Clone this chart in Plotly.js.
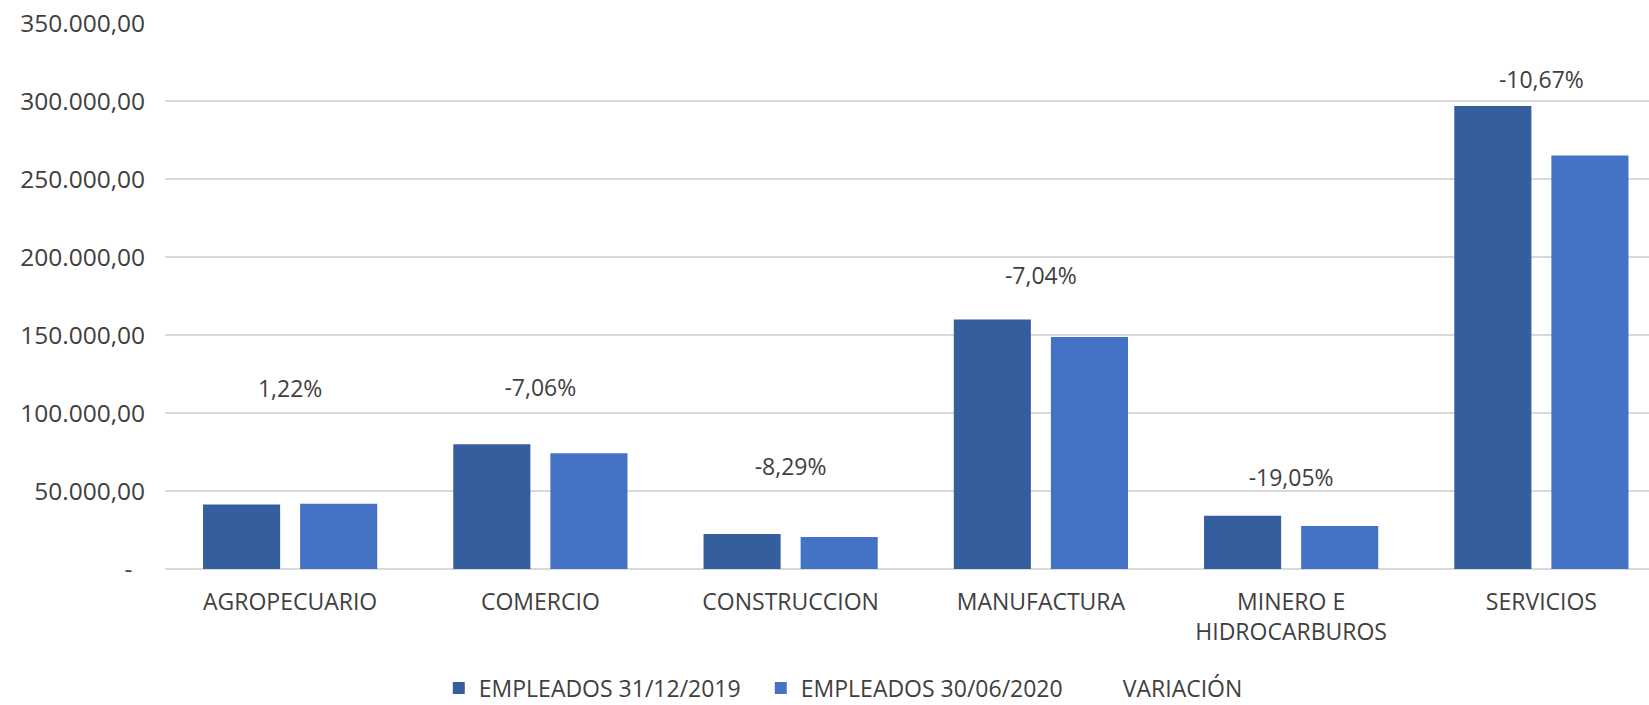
<!DOCTYPE html>
<html>
<head>
<meta charset="utf-8">
<script src="https://cdn.plot.ly/plotly-3.0.1.min.js"></script>
<style>
  html, body { margin: 0; padding: 0; background: #ffffff; }
  #chart { width: 1649px; height: 705px; }
</style>
</head>
<body>
<div id="chart"></div>
<script>
// ---- Data ----
const categories = ["AGROPECUARIO", "COMERCIO", "CONSTRUCCION", "MANUFACTURA", "MINERO E<br>HIDROCARBUROS", "SERVICIOS"];
const empleados2019 = [41300, 79900, 22400, 160000, 34100, 296800];
const empleados2020 = [41800, 74260, 20540, 148700, 27600, 265100];
const variacion = [1.22, -7.06, -8.29, -7.04, -19.05, -10.67];
// heights (in axis units) where the VARIACIÓN labels sit in the original
const variacionLabelY = [113700, 114300, 64200, 186300, 57200, 312100];
const yTickVals = [0, 50000, 100000, 150000, 200000, 250000, 300000, 350000];
const yTickText = ["-\u00a0\u00a0", "50.000,00", "100.000,00", "150.000,00", "200.000,00", "250.000,00", "300.000,00", "350.000,00"];

const seriesNames = ["EMPLEADOS 31/12/2019", "EMPLEADOS 30/06/2020", "VARIACIÓN"];

function fmtPct(v) {
  return v.toFixed(2).replace(".", ",") + "%";
}

const FONT = "Open Sans, Noto Sans, sans-serif";
const TXT = "#404040";

const traces = [
  {
    type: "bar",
    name: seriesNames[0],
    x: categories,
    y: empleados2019,
    marker: { color: "#355E9F" },
    hoverinfo: "skip"
  },
  {
    type: "bar",
    name: seriesNames[1],
    x: categories,
    y: empleados2020,
    marker: { color: "#4472C4" },
    hoverinfo: "skip"
  },
  {
    type: "scatter",
    mode: "lines+text",
    name: seriesNames[2],
    x: categories,
    y: variacionLabelY,
    text: variacion.map(fmtPct),
    textposition: "middle center",
    textfont: { family: FONT, size: 23, color: TXT },
    line: { color: "rgba(0,0,0,0)", width: 0 },
    hoverinfo: "skip",
    cliponaxis: false
  }
];

const layout = {
  width: 1649,
  height: 705,
  paper_bgcolor: "#ffffff",
  plot_bgcolor: "#ffffff",
  margin: { l: 165, r: 0, t: 23, b: 136, pad: 0 },
  font: { family: FONT, size: 23, color: TXT },
  barmode: "group",
  bargap: 0.224,
  bargroupgap: 0.206,
  showlegend: true,
  legend: {
    orientation: "h",
    xref: "container",
    yref: "container",
    x: 0.559,
    xanchor: "center",
    y: 0.024,
    yanchor: "middle",
    font: { family: FONT, size: 23, color: TXT },
    traceorder: "normal",
    itemwidth: 30,
    entrywidth: 277
  },
  xaxis: {
    type: "category",
    range: [-0.5, 5.43],
    showgrid: false,
    showline: false,
    zeroline: false,
    ticks: "outside",
    ticklen: 12,
    tickcolor: "rgba(0,0,0,0)",
    tickfont: { family: FONT, size: 23, color: TXT },
    fixedrange: true
  },
  yaxis: {
    range: [0, 350000],
    tickmode: "array",
    tickvals: yTickVals,
    ticktext: yTickText,
    showgrid: true,
    gridcolor: "#d9d9d9",
    gridwidth: 2,
    zeroline: true,
    zerolinecolor: "#d9d9d9",
    zerolinewidth: 2,
    showline: false,
    ticks: "outside",
    ticklen: 14,
    tickcolor: "rgba(0,0,0,0)",
    tickfont: { family: FONT, size: 24.5, color: TXT },
    fixedrange: true
  }
};

Plotly.newPlot("chart", traces, layout, { staticPlot: true, displayModeBar: false });
</script>
</body>
</html>
